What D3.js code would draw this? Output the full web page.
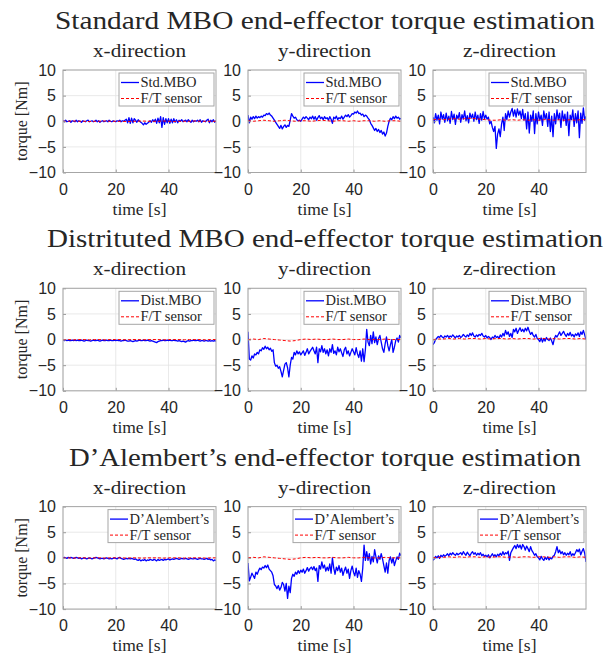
<!DOCTYPE html>
<html>
<head>
<meta charset="utf-8">
<script src="https://cdn.jsdelivr.net/npm/d3@7/dist/d3.min.js"></script>
<style>
body{margin:0;background:#fff}
svg{display:block}
</style>
</head>
<body>
<div id="chart"></div>
<script>
// blue traces: one value every 0.5 s from 0 to 58 s (10 per line = 5 s)
var stdX = [
	0.1,-0.1,0.2,-0.1,0.0,0.1,-0.2,0.1,0.0,-0.1,
	0.2,-0.1,0.1,0.0,-0.2,0.1,0.0,-0.1,0.1,0.2,
	-0.1,0.0,0.1,-0.1,0.0,0.2,-0.1,0.1,-0.2,0.0,
	0.1,-0.1,0.0,0.1,-0.1,0.2,0.0,-0.1,0.1,0.0,
	-0.1,0.1,0.0,0.2,-0.1,0.1,0.0,0.2,0.4,-0.3,
	0.7,-0.4,0.6,-0.3,0.5,0.2,-0.2,0.3,0.0,-0.2,
	-0.4,-0.7,-0.3,-0.6,-0.4,-0.2,0.1,-0.2,0.3,-0.1,
	0.4,-0.4,0.6,-0.3,0.9,-1.2,0.7,-0.6,0.5,-0.3,
	0.5,-0.4,0.4,-0.3,0.5,-0.2,0.3,-0.3,0.2,0.0,
	0.3,-0.1,0.1,0.2,-0.1,0.3,0.0,-0.2,0.2,-0.1,
	0.1,0.0,0.2,-0.1,0.3,-0.2,0.1,0.0,-0.1,0.2,
	0.4,-0.3,0.2,-0.1,0.3,-0.2,0.1]
var stdY = [
	1.2,-0.3,0.8,0.4,0.9,0.5,1.0,0.6,0.9,0.7,
	1.0,0.8,1.2,1.1,1.5,1.3,1.6,1.2,1.0,0.6,
	0.2,-0.2,-0.6,-1.0,-1.4,-0.8,-1.5,-1.0,-0.7,-1.2,
	-0.8,-1.0,0.2,1.5,1.0,0.6,0.8,0.3,0.1,0.2,
	0.0,0.4,0.8,0.5,0.9,0.6,0.3,0.8,0.5,1.0,
	0.4,0.9,0.2,0.7,1.1,0.5,0.8,0.3,0.9,0.5,
	0.7,0.2,0.9,0.4,-0.4,0.8,0.5,1.0,0.3,0.7,
	0.5,1.0,0.4,0.8,1.2,0.9,1.3,0.8,1.1,1.5,
	1.4,1.8,1.6,2.0,1.5,1.6,1.2,1.4,0.9,1.2,
	1.0,0.6,0.3,-0.4,-0.8,-1.3,-1.8,-1.4,-2.0,-1.6,
	-2.2,-1.8,-2.5,-2.1,-2.9,-2.3,-1.0,0.0,0.6,0.3,
	0.9,0.5,1.0,0.6,0.8,0.4,0.6]
var stdZ = [
	0.8,-0.3,1.5,0.2,1.2,-0.5,1.8,0.4,1.3,-0.2,
	1.6,0.1,1.0,-0.4,1.9,0.3,1.4,-0.6,1.2,0.5,
	1.7,-0.2,1.3,0.4,2.0,0.1,1.1,-0.3,1.6,0.6,
	1.4,0.0,1.8,0.3,1.2,-0.4,1.5,0.2,1.9,0.5,
	1.2,0.4,0.8,-0.5,0.0,-1.2,-2.0,-1.0,-5.3,-2.5,
	-1.5,-3.0,-0.5,0.8,-1.8,1.5,0.3,2.0,0.8,1.8,
	2.5,1.0,2.2,0.8,2.4,1.2,2.0,0.5,2.3,0.2,
	1.5,-1.5,1.8,-2.3,1.2,0.0,2.0,-2.4,1.5,-0.5,
	1.8,0.2,1.2,-0.8,2.0,0.4,1.5,-1.0,1.8,-2.0,
	1.0,-3.0,1.5,-0.5,2.2,0.3,1.6,-1.2,2.0,0.1,
	1.4,-0.8,1.8,-2.8,1.2,0.3,2.2,-1.0,1.5,-0.3,
	2.0,-3.2,1.6,-0.4,2.6,0.2,1.0]

var distX = [
	-0.1,-0.2,-0.1,-0.2,-0.1,-0.2,-0.2,-0.1,-0.2,-0.1,
	-0.2,-0.1,-0.2,-0.2,-0.1,-0.2,-0.3,-0.2,-0.1,-0.2,
	-0.2,-0.3,-0.2,-0.1,-0.2,-0.2,-0.1,-0.2,-0.3,-0.2,
	-0.1,-0.2,-0.2,-0.1,-0.2,-0.2,-0.1,-0.2,-0.2,-0.1,
	-0.2,-0.1,-0.2,-0.2,-0.3,-0.2,-0.2,-0.1,-0.2,-0.3,
	-0.3,-0.2,-0.3,-0.4,-0.3,-0.2,-0.3,-0.2,-0.1,-0.2,
	-0.2,-0.1,-0.2,-0.2,-0.1,-0.2,-0.3,-0.2,-0.3,-0.4,
	-0.5,-0.6,-0.4,-0.3,-0.2,-0.2,-0.1,-0.2,-0.2,-0.1,
	-0.2,-0.1,-0.2,-0.2,-0.1,-0.2,-0.2,-0.3,-0.2,-0.3,
	-0.4,-0.3,-0.4,-0.5,-0.3,-0.2,-0.3,-0.2,-0.2,-0.1,
	-0.2,-0.2,-0.1,-0.2,-0.3,-0.2,-0.2,-0.3,-0.2,-0.2,
	-0.3,-0.2,-0.3,-0.2,-0.3,-0.2,-0.3]
var distY = [
	1.5,-3.8,-4.0,-3.2,-3.6,-2.8,-3.0,-2.5,-2.8,-2.0,
	-2.2,-1.6,-1.9,-1.3,-1.8,-1.5,-2.0,-1.7,-2.3,-2.0,
	-4.5,-5.2,-5.0,-5.6,-5.3,-6.2,-7.3,-6.0,-4.8,-4.5,
	-5.5,-7.3,-5.0,-3.5,-3.8,-2.5,-3.0,-2.2,-2.8,-2.4,
	-3.0,-2.6,-2.2,-3.1,-2.5,-1.8,-2.8,-2.3,-1.9,-1.5,
	-2.2,-2.8,-1.5,-4.5,-1.8,-2.4,-1.2,-2.5,-1.8,-2.8,
	-2.0,-3.2,-1.8,-2.5,-1.0,-2.7,-2.2,-3.0,-1.5,-2.4,
	-1.8,-2.6,-3.3,-2.0,-1.5,-2.8,-2.2,-3.2,-2.5,-1.8,
	-2.4,-3.0,-1.6,-2.8,-3.5,-2.2,-4.2,-1.8,-4.3,-2.0,
	2.0,-0.5,-1.2,0.8,-0.8,1.5,-0.6,0.5,-1.0,0.2,
	0.8,-0.5,-1.8,-2.5,-0.8,0.5,-1.2,-2.2,-1.0,0.0,
	-2.5,-1.5,-0.2,0.3,-0.5,0.8,0.3]
var distZ = [
	-1.0,-0.6,0.0,0.3,0.6,0.4,0.8,0.5,0.3,0.7,
	0.5,0.8,0.4,0.7,0.5,0.9,0.6,0.3,0.7,0.5,
	0.8,0.4,0.6,1.0,0.7,0.5,0.9,0.6,1.2,0.8,
	1.3,0.7,0.5,0.9,0.6,1.0,0.8,1.2,0.7,0.5,
	0.8,0.3,0.6,0.4,0.0,0.5,0.3,0.8,0.4,0.6,
	0.2,0.9,0.5,1.2,0.7,1.8,1.0,1.5,0.6,1.2,
	0.4,2.0,1.5,2.2,1.2,1.8,2.3,1.6,2.0,1.5,
	2.2,1.7,2.4,1.6,1.0,1.4,0.8,0.5,1.0,0.2,
	0.0,-0.4,0.3,-0.5,0.2,-0.3,0.4,0.0,-0.2,0.3,
	-0.3,-1.0,0.2,0.8,0.5,1.0,1.5,0.8,1.2,1.6,
	1.0,0.6,1.2,0.8,1.4,0.7,1.0,0.5,1.1,0.8,
	1.3,0.6,1.5,1.0,1.8,0.9,0.0]

var daX = [
	0.0,0.1,0.0,-0.1,0.1,0.0,0.1,0.0,-0.1,0.0,
	0.1,0.0,-0.1,0.0,-0.2,-0.1,0.0,-0.1,-0.2,-0.1,
	0.0,-0.1,-0.2,-0.1,0.0,0.1,0.0,-0.1,-0.2,-0.1,
	-0.1,-0.2,-0.1,0.0,-0.1,-0.2,-0.1,-0.2,-0.1,0.0,
	-0.1,-0.2,0.0,0.1,-0.1,-0.2,-0.3,-0.2,-0.1,-0.2,
	-0.1,-0.2,-0.1,-0.2,-0.3,-0.2,-0.4,-0.5,-0.3,-0.6,
	-0.4,-0.5,-0.3,-0.6,-0.4,-0.5,-0.3,-0.4,-0.5,-0.3,
	-0.4,-0.6,-0.3,-0.5,-0.4,-0.3,-0.5,-0.3,-0.4,-0.3,
	-0.2,-0.4,-0.3,-0.2,-0.3,-0.2,-0.1,-0.2,-0.3,-0.2,
	-0.1,-0.2,-0.2,-0.1,-0.2,-0.3,-0.2,-0.1,-0.2,-0.2,
	-0.1,-0.2,-0.3,-0.2,-0.1,-0.2,-0.2,-0.3,-0.2,-0.1,
	-0.3,-0.2,-0.4,-0.3,-0.6,-0.4,-0.5]
var daY = [
	-1.0,-4.5,-3.8,-3.0,-3.5,-4.0,-2.8,-3.2,-2.5,-2.0,
	-2.3,-1.8,-2.0,-1.5,-1.9,-1.4,-2.2,-2.5,-2.8,-3.5,
	-5.2,-5.5,-6.0,-5.4,-6.3,-5.8,-4.8,-5.2,-6.5,-5.0,
	-7.9,-5.5,-6.8,-4.0,-3.2,-3.6,-2.8,-3.2,-2.5,-3.0,
	-2.4,-2.8,-2.2,-3.0,-2.5,-1.9,-2.6,-2.1,-1.8,-2.3,
	-1.7,-2.5,-2.0,-4.6,-1.5,-2.2,-0.8,-2.0,-1.4,-2.6,
	-1.8,-2.5,-1.2,-3.0,0.0,-2.0,-3.2,-1.8,-2.5,-1.5,
	-2.8,-2.0,-3.4,-2.5,-1.8,-3.0,-2.2,-4.0,-2.5,-1.6,
	-2.8,-3.5,-2.0,-3.8,-2.5,-3.2,-4.6,-2.0,2.5,-0.5,
	1.2,-0.5,0.8,-1.2,0.3,-0.8,1.6,0.2,-1.0,0.4,
	-0.3,0.8,-0.2,-1.5,-2.8,-1.0,-3.0,-0.5,0.2,-1.0,
	0.0,-1.5,-0.6,0.2,-0.3,0.9,0.4]
var daZ = [
	-0.5,-0.2,0.3,0.0,0.4,-0.1,0.5,0.2,0.6,0.3,
	0.5,0.8,0.4,0.9,0.6,1.0,0.7,0.5,0.9,0.6,
	0.8,1.0,0.6,1.2,0.8,0.5,1.1,0.7,0.4,0.9,
	1.2,0.7,1.0,0.5,0.9,0.6,1.0,0.4,0.7,0.3,
	0.5,0.2,0.6,0.0,0.4,0.8,0.3,0.6,0.2,0.7,
	0.4,0.9,0.5,1.2,0.6,1.0,0.8,1.3,-0.5,1.0,
	1.5,2.0,2.4,1.8,2.6,2.0,2.5,1.7,2.6,2.2,
	1.5,2.3,1.8,1.2,2.2,1.4,1.0,0.5,0.8,0.2,
	0.0,-0.4,0.3,-0.2,-0.5,0.1,-0.3,0.2,-0.4,0.0,
	-0.2,0.3,0.5,1.2,2.2,1.0,1.5,0.8,1.2,0.6,
	1.0,0.5,0.9,0.6,1.2,0.4,0.8,0.5,1.0,1.6,
	1.2,1.7,0.6,1.3,1.8,0.9,-0.8]

// red F/T sensor traces, one value every 2 s
var stdFtX = [0.0,0.0,0.05,0.0,0.0,-0.05,0.0,0.0,0.05,0.0,0.0,0.0,-0.05,0.0,0.0,0.05,0.0,0.0,0.0,0.05,0.0,-0.05,0.0,0.0,0.0,0.05,0.0,0.0,0.0,0.0]
var stdFtY = [0.1,0.0,0.1,0.2,0.1,0.0,0.1,0.2,0.1,0.0,0.1,0.1,0.0,0.1,0.2,0.1,0.0,0.1,0.1,0.0,0.1,0.0,0.1,0.1,0.0,0.1,0.0,0.1,0.1,0.0]
var stdFtZ = [0.3,0.4,0.3,0.4,0.5,0.4,0.5,0.6,0.5,0.4,0.3,0.2,0.2,0.3,0.2,0.3,0.2,0.3,0.2,0.3,0.2,0.3,0.3,0.2,0.3,0.2,0.3,0.2,0.3,0.3]
var ftX = [-0.05,0.0,-0.05,0.0,0.0,-0.05,0.0,0.0,-0.05,0.0,0.0,0.0,-0.05,0.0,0.0,-0.05,0.0,0.0,0.0,-0.05,0.0,0.0,0.0,-0.05,0.0,0.0,0.0,-0.05,0.0,0.0]
var ftY = [0.0,0.1,0.0,0.2,0.1,0.0,-0.1,-0.2,-0.3,-0.2,0.0,0.1,0.0,0.1,0.0,0.0,0.1,0.0,0.0,0.1,0.0,0.0,0.1,0.0,0.0,0.0,0.1,0.0,0.0,0.0]
var ftZ = [0.0,0.1,0.1,0.2,0.1,0.2,0.1,0.2,0.2,0.1,0.2,0.1,0.2,0.2,0.1,0.2,0.1,0.2,0.2,0.1,0.2,0.2,0.1,0.2,0.1,0.2,0.2,0.1,0.2,0.1]

var rowTitles = ["Standard MBO end-effector torque estimation",
	"Distrituted MBO end-effector torque estimation",
	"D\u2019Alembert\u2019s end-effector torque estimation"]
var colTitles = ["x-direction", "y-direction", "z-direction"]
var estLabels = ["Std.MBO", "Dist.MBO", "D\u2019Alembert\u2019s"]
var sensorLabel = "F/T sensor"
var xTicks = [0, 20, 40]
var yTicks = [-10, -5, 0, 5, 10]
var T_END = 58

var estimates = [[stdX, stdY, stdZ], [distX, distY, distZ], [daX, daY, daZ]]
var sensors = [[stdFtX, stdFtY, stdFtZ], [ftX, ftY, ftZ], [ftX, ftY, ftZ]]

var WIDTH = 612, HEIGHT = 654
var PLOT_LEFT = [63, 248, 433]
var ROW_TOP = [70, 288.3, 506.6]
var PLOT_W = 153, PLOT_H = 102.5
var TITLE_W = [540, 556, 512]
var LEGEND_W = [95, 95, 106]
var SERIF = "'Liberation Serif', 'Times New Roman', serif"
var SANS = "'Liberation Sans', Arial, sans-serif"
var TEXT_COLOR = "#262626"

function series(vals){
	var n = vals.length
	return vals.map(function(v, i){ return [i * T_END / (n - 1), v] })
}

function serifText(parent, size){
	return parent.append("text")
		.style("font-family", SERIF)
		.style("font-size", size + "px")
		.attr("fill", TEXT_COLOR)
}

var svg = d3.select("#chart").append("svg")
	.attr("width", WIDTH)
	.attr("height", HEIGHT)

function buildPanel(r, c){
	var left = PLOT_LEFT[c], top = ROW_TOP[r]
	var x = d3.scaleLinear().domain([0, T_END]).range([0, PLOT_W])
	var y = d3.scaleLinear().domain([-10, 10]).range([PLOT_H, 0])

	var g = svg.append("g")
		.attr("transform", "translate(" + left + "," + top + ")")

	// grid
	g.selectAll(".gx").data(xTicks).enter().append("line")
		.attr("x1", function(d){ return x(d) }).attr("x2", function(d){ return x(d) })
		.attr("y1", 0).attr("y2", PLOT_H)
		.attr("stroke", "#e3e3e3").attr("stroke-width", 0.8)
	g.selectAll(".gy").data(yTicks).enter().append("line")
		.attr("x1", 0).attr("x2", PLOT_W)
		.attr("y1", function(d){ return y(d) }).attr("y2", function(d){ return y(d) })
		.attr("stroke", "#e3e3e3").attr("stroke-width", 0.8)

	var line = d3.line()
		.x(function(d){ return x(d[0]) })
		.y(function(d){ return y(d[1]) })

	var clip = "clip" + r + c
	g.append("clipPath").attr("id", clip).append("rect")
		.attr("width", PLOT_W).attr("height", PLOT_H)

	g.append("path")
		.datum(series(estimates[r][c]))
		.attr("clip-path", "url(#" + clip + ")")
		.attr("d", line)
		.attr("fill", "none")
		.attr("stroke", "#0000ff")
		.attr("stroke-width", 1.3)
		.attr("stroke-linejoin", "round")

	g.append("path")
		.datum(series(sensors[r][c]))
		.attr("d", line)
		.attr("fill", "none")
		.attr("stroke", "#ff0000")
		.attr("stroke-width", 1)
		.attr("stroke-dasharray", "3,2")

	// axes, ticks point inward like matlab
	var ya = g.append("g")
		.call(d3.axisLeft(y).tickValues(yTicks).tickSize(-3).tickPadding(7))
	var xa = g.append("g")
		.attr("transform", "translate(0," + PLOT_H + ")")
		.call(d3.axisBottom(x).tickValues(xTicks).tickSize(-3).tickPadding(11))
	;[ya, xa].forEach(function(a){
		a.select(".domain").remove()
		a.selectAll(".tick line").attr("stroke", "#9a9a9a")
		a.selectAll(".tick text")
			.style("font-family", SANS)
			.style("font-size", "16px")
			.attr("fill", TEXT_COLOR)
	})

	g.append("rect")
		.attr("width", PLOT_W).attr("height", PLOT_H)
		.attr("fill", "none")
		.attr("stroke", "#a6a6a6")
		.attr("stroke-width", 1)

	serifText(g, 19)
		.attr("x", PLOT_W / 2)
		.attr("y", -13)
		.attr("text-anchor", "middle")
		.attr("textLength", 93)
		.attr("lengthAdjust", "spacingAndGlyphs")
		.text(colTitles[c])

	serifText(g, 17.5)
		.attr("x", PLOT_W / 2)
		.attr("y", PLOT_H + 42)
		.attr("text-anchor", "middle")
		.text("time [s]")

	if(c == 0){
		serifText(g, 16)
			.attr("transform", "translate(-36," + (PLOT_H / 2) + ") rotate(-90)")
			.attr("text-anchor", "middle")
			.text("torque [Nm]")
	}

	// legend
	var lw = LEGEND_W[r]
	var leg = g.append("g")
		.attr("transform", "translate(" + (PLOT_W - 2 - lw) + ",3)")
	leg.append("rect")
		.attr("width", lw).attr("height", 33)
		.attr("fill", "#fff")
		.attr("stroke", "#a6a6a6")
		.attr("stroke-width", 1)
	leg.append("line")
		.attr("x1", 2).attr("x2", 20).attr("y1", 9.5).attr("y2", 9.5)
		.attr("stroke", "#0000ff").attr("stroke-width", 1.3)
	leg.append("line")
		.attr("x1", 2).attr("x2", 20).attr("y1", 25.5).attr("y2", 25.5)
		.attr("stroke", "#ff0000").attr("stroke-width", 1)
		.attr("stroke-dasharray", "3,2")
	serifText(leg, 14.5)
		.attr("x", 21.5).attr("y", 14)
		.text(estLabels[r])
	serifText(leg, 14.5)
		.attr("x", 21.5).attr("y", 30.2)
		.text(sensorLabel)
}

for(var r = 0; r < 3; r++){
	serifText(svg, 25)
		.attr("x", 325)
		.attr("y", ROW_TOP[r] - 41)
		.attr("text-anchor", "middle")
		.attr("textLength", TITLE_W[r])
		.attr("lengthAdjust", "spacingAndGlyphs")
		.text(rowTitles[r])
	for(var c = 0; c < 3; c++){
		buildPanel(r, c)
	}
}
</script>
</body>
</html>
